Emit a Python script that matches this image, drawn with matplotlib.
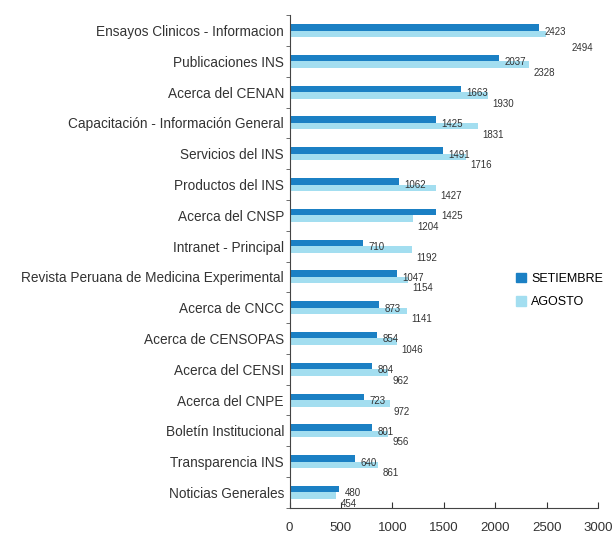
import matplotlib.pyplot as plt
import numpy as np
from matplotlib.patches import Patch

plt.rcParams['font.family'] = ['Liberation Sans', 'DejaVu Sans']

categorias = ['Ensayos Clinicos - Informacion', 'Publicaciones INS', 'Acerca del CENAN',
              'Capacitación - Información General', 'Servicios del INS', 'Productos del INS',
              'Acerca del CNSP', 'Intranet - Principal', 'Revista Peruana de Medicina Experimental',
              'Acerca de CNCC', 'Acerca de CENSOPAS', 'Acerca del CENSI', 'Acerca del CNPE',
              'Boletín Institucional', 'Transparencia INS', 'Noticias Generales']
setiembre = [2423, 2037, 1663, 1425, 1491, 1062, 1425, 710, 1047, 873, 854, 804, 723, 801, 640, 480]
agosto = [2494, 2328, 1930, 1831, 1716, 1427, 1204, 1192, 1154, 1141, 1046, 962, 972, 956, 861, 454]
xticks = [0, 500, 1000, 1500, 2000, 2500, 3000]

c_set = '#1b80c4'
c_ago = '#a3def0'

fig = plt.figure(figsize=(6.16, 5.42), dpi=100)
ax = fig.add_axes([0.470, 0.063, 0.501, 0.909])

y = np.arange(len(categorias))
h = 0.21
ax.barh(y - h / 2, setiembre, height=h, color=c_set)
ax.barh(y + h / 2, agosto, height=h, color=c_ago)

for i in range(len(categorias)):
    ax.annotate(str(setiembre[i]), (setiembre[i], y[i] - h / 2), xytext=(4, -3),
                textcoords='offset points', fontsize=7, color='#333333', va='center')
    # la primera etiqueta de agosto va mas a la derecha y abajo
    dx, dy = (18, -10) if i == 0 else (3, -6)
    ax.annotate(str(agosto[i]), (agosto[i], y[i] + h / 2), xytext=(dx, dy),
                textcoords='offset points', fontsize=7, color='#333333', va='center')

ax.set_xlim(0, 3000)
ax.set_ylim(len(categorias) - 0.5, -0.5)
ax.set_xticks(xticks)
ax.set_yticks(y)
ax.set_yticklabels(categorias, fontsize=9.8, color='#333333')
ax.set_yticks(np.arange(len(categorias) + 1) - 0.5, minor=True)
ax.tick_params(axis='y', which='major', length=0, pad=4)
ax.tick_params(axis='y', which='minor', length=3, color='#555555')
ax.tick_params(axis='x', direction='in', length=4, labelsize=9.5, pad=10, colors='#333333')
for s in ['top', 'right']:
    ax.spines[s].set_visible(False)
ax.spines['left'].set_color('#444444')
ax.spines['bottom'].set_color('#444444')

handles = [Patch(color=c_set), Patch(color=c_ago)]
fig.legend(handles, ['SETIEMBRE', 'AGOSTO'], loc='center left', bbox_to_anchor=(0.82, 0.464),
           frameon=False, fontsize=9, handlelength=0.8, handleheight=0.8,
           handletextpad=0.4, labelspacing=0.9)

fig.savefig('out.png', dpi=100)
